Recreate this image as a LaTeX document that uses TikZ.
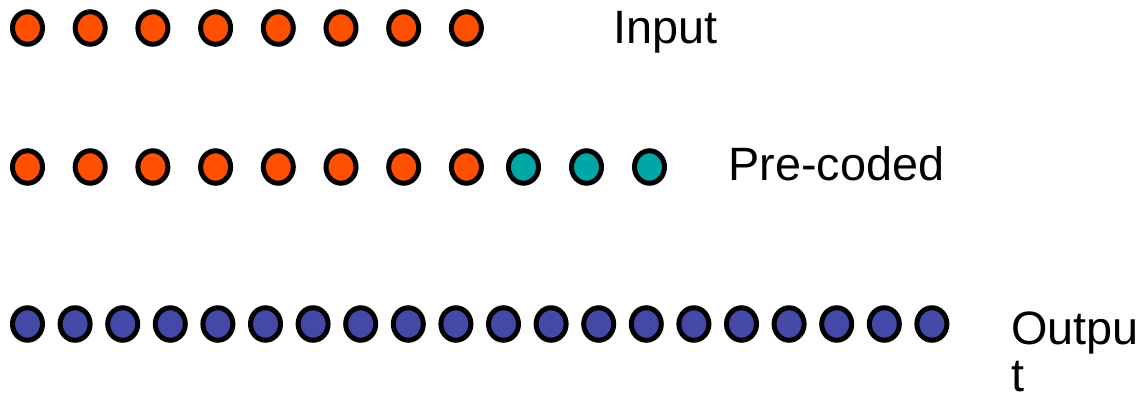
\documentclass[tikz,border=0pt]{standalone}
\usepackage{fontspec}
\setmainfont{Liberation Sans}
\usetikzlibrary{shapes.geometric}
\definecolor{dotorange}{HTML}{FF4F00}
\definecolor{dotteal}{HTML}{00A7A7}
\definecolor{dotblue}{HTML}{4449A8}
\tikzset{
  dot/.style={ellipse, draw=black, line width=5pt, minimum width=30pt,
    minimum height=32.5pt, inner sep=0pt},
  label/.style={inner sep=0pt, font=\fontsize{46.8}{47.5}\selectfont,
    anchor=base west}
}
\begin{document}
\begin{tikzpicture}[x=1pt,y=-1pt]
  \useasboundingbox (0,0) rectangle (1146,397);
  % input symbols
  \foreach \i in {0,...,7}
    \node[dot, fill=dotorange] (in\i) at ({27.5+62.7*\i},28) {};
  \node[label] (inlabel) at (613,43) {Input};
  % pre-coded symbols: the input followed by three parity symbols
  \foreach \i in {0,...,7}
    \node[dot, fill=dotorange] (pc\i) at ({27.5+62.7*\i},167) {};
  \foreach \i in {0,1,2}
    \node[dot, fill=dotteal] (pp\i) at ({523.5+63*\i},167) {};
  \node[label] (pclabel) at (728,180) {Pre-coded};
  % output symbols
  \foreach \i in {0,...,19}
    \node[dot, fill=dotblue] (out\i) at ({27.5+47.6*\i},324) {};
  \node[label] (outlabel) at (1011,344) {\vtop{\hbox{Outpu}\hbox{t}}};
\end{tikzpicture}
\end{document}
